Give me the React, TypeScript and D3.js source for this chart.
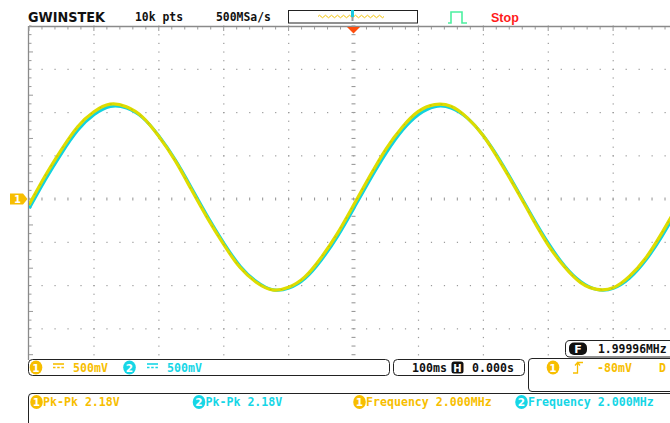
import React from "react";
import * as d3 from "d3";

const W = 670;
const H = 423;

// time axis in ns (100 ns/div, 10 div), values in mV (500 mV/div, 8 div)
const timeNs = [
  -500, -475, -450, -425, -400, -375, -350, -325, -300, -275, -250, -225, -200, -175, -150, -125, -100, -75, -50, -25,
  0, 25, 50, 75, 100, 125, 150, 175, 200, 225, 250, 275, 300, 325, 350, 375, 400, 425, 450, 475, 500,
];
const ch1mV = [
  -69, 268, 571, 836, 1008, 1096, 1066, 947, 724, 446, 112, -221, -526, -790, -962, -1050, -1021, -901, -679, -400,
  -72, 262, 578, 830, 1013, 1091, 1072, 941, 731, 440, 120, -215, -532, -784, -967, -1045, -1027, -895, -685, -394, -70,
];
const ch2mV = [
  -103, 230, 535, 801, 980, 1074, 1055, 942, 730, 457, 133, -200, -507, -771, -950, -1045, -1026, -913, -701, -428,
  -105, 228, 538, 799, 982, 1072, 1057, 940, 733, 455, 135, -198, -509, -769, -952, -1043, -1028, -911, -703, -426, -104,
];

const divTimes = [-500, -400, -300, -200, -100, 0, 100, 200, 300, 400, 500];
const divVolts = [2000, 1500, 1000, 500, 0, -500, -1000, -1500, -2000];

const topLabels = { brand: "GWINSTEK", pts: "10k pts", rate: "500MSa/s", state: "Stop" };
const chScale = ["500mV", "500mV"];
const timebase = "100ms";
const hPos = "0.000s";
const trigLevel = "-80mV";
const freqCounter = "1.99996MHz";
const measures = [
  { ch: 1, text: "Pk-Pk 2.18V" },
  { ch: 2, text: "Pk-Pk 2.18V" },
  { ch: 1, text: "Frequency 2.000MHz" },
  { ch: 2, text: "Frequency 2.000MHz" },
];

const YEL = "#f7be00";
const CYN = "#16d6e6";
const TRACE_Y = "#dedc00";
const TRACE_C = "#12d2de";
const MONO = "'DejaVu Sans Mono', monospace";

const x = d3.scaleLinear().domain([-500, 500]).range([29, 678]);
const y = d3.scaleLinear().domain([-2000, 2000]).range([372, 26]);

const Badge = ({ cx, cy, n, color }: { cx: number; cy: number; n: number; color: string }) => (
  <g>
    <ellipse cx={cx} cy={cy} rx={6.3} ry={7} fill={color} />
    <text x={cx} y={cy + 4} textAnchor="middle" fill="#fff" fontFamily="'DejaVu Sans', sans-serif" fontWeight="bold" fontSize={10.5}>
      {n}
    </text>
  </g>
);

const DcSym = ({ x0, yy, color }: { x0: number; yy: number; color: string }) => (
  <g stroke={color} strokeWidth={1.6}>
    <line x1={x0} x2={x0 + 11} y1={yy} y2={yy} />
    <line x1={x0} x2={x0 + 11} y1={yy + 3.5} y2={yy + 3.5} strokeDasharray="2.5 1.7" />
  </g>
);

export default function App() {
  const line = d3
    .line<number>()
    .x((_, i) => x(timeNs[i]))
    .y((d) => y(d))
    .curve(d3.curveNatural);

  const gx = divTimes.map((t) => x(t));
  const gy = divVolts.map((v) => y(v));
  const xMinor = d3.range(-500, 501, 20).map((t) => x(t)).filter((v) => v < W);
  const yMinor = d3.range(-2000, 2001, 100).map((v) => y(v)).filter((v) => v < 358);
  const cx0 = x(0);
  const cy0 = y(0);

  const dots: JSX.Element[] = [];
  gy.forEach((yy, k) => {
    if (k === 0 || k === 4 || yy > 358) return;
    xMinor.forEach((xx, j) => dots.push(<rect key={`h${k}-${j}`} x={xx - 0.5} y={yy - 0.5} width={1.2} height={1.2} fill="#9a9a9a" />));
  });
  gx.forEach((xx, k) => {
    if (k === 0 || k === 5 || xx > W) return;
    yMinor.forEach((yy, j) => dots.push(<rect key={`v${k}-${j}`} x={xx - 0.5} y={yy - 0.5} width={1.2} height={1.2} fill="#9a9a9a" />));
  });

  // memory bar wave icon
  let wave = "M318,16.5";
  for (let px = 318; px < 384; px += 6) wave += ` q1.5,-2.5 3,0 q1.5,2.5 3,0`;

  return (
    <svg width={W} height={H} style={{ position: "absolute", left: 0, top: 0, background: "#fff" }}>
      <rect width={W} height={H} fill="#fff" />

      {/* top bar */}
      <text x={28} y={22} fontFamily="'DejaVu Sans', sans-serif" fontWeight="bold" fontSize={14.5} textLength={77} lengthAdjust="spacingAndGlyphs" fill="#111">
        {topLabels.brand}
      </text>
      <text x={135} y={21} fontFamily={MONO} fontWeight="bold" fontSize={11.4} fill="#111">
        {topLabels.pts}
      </text>
      <text x={216} y={21} fontFamily={MONO} fontWeight="bold" fontSize={11.4} fill="#111">
        {topLabels.rate}
      </text>
      <rect x={288.5} y={10.5} width={129} height={12.5} fill="#fff" stroke="#222" strokeWidth={1} />
      <path d={wave} fill="none" stroke="#f2c200" strokeWidth={1} />
      <rect x={351} y={10} width={3} height={7} fill="#18c8e0" />
      <rect x={351.5} y={17} width={2} height={4} fill="#999" />
      <path d="M448,23 H451 V12 H462 V23 H467" fill="none" stroke="#4cf0a0" strokeWidth={1.6} />
      <text x={491} y={22} fontFamily="'Liberation Sans', sans-serif" fontWeight="bold" fontSize={12.5} fill="#ff1a1a">
        {topLabels.state}
      </text>

      {/* graticule */}
      <g>{dots}</g>
      <line x1={29} x2={W} y1={26.5} y2={26.5} stroke="#8a8a8a" strokeWidth={1.3} />
      <line x1={28.5} x2={28.5} y1={26} y2={360} stroke="#8a8a8a" strokeWidth={1.3} />
      {xMinor.map((xx, i) => (
        <line key={`tt${i}`} x1={xx} x2={xx} y1={27} y2={i % 5 === 0 ? 31 : 29.5} stroke="#999" />
      ))}
      {yMinor.map((yy, i) => (
        <line key={`lt${i}`} x1={29} x2={i % 5 === 0 ? 33 : 31.5} y1={yy} y2={yy} stroke="#999" />
      ))}
      {xMinor.map((xx, i) => (
        <line key={`ch${i}`} x1={xx} x2={xx} y1={cy0 - 1.5} y2={cy0 + 1.5} stroke="#9a9a9a" strokeWidth={1.1} />
      ))}
      {yMinor.map((yy, i) => (
        <line key={`cv${i}`} x1={cx0 - 2} x2={cx0 + 2} y1={yy} y2={yy} stroke="#9a9a9a" strokeWidth={1.1} />
      ))}

      {/* traces */}
      <defs>
        <clipPath id="scr">
          <rect x={29} y={27} width={W - 29} height={331} />
        </clipPath>
      </defs>
      <g clipPath="url(#scr)" fill="none" strokeLinejoin="round">
        <path d={line(ch2mV) ?? ""} stroke={TRACE_C} strokeWidth={3} transform="translate(0.3,0.4)" />
        <path d={line(ch1mV) ?? ""} stroke={TRACE_Y} strokeWidth={3.2} />
        <path d={line(ch1mV) ?? ""} stroke="#9aa000" strokeWidth={0.6} strokeDasharray="2 9" opacity={0.7} />
      </g>

      {/* trigger position marker and channel marker */}
      <path d={`M${cx0 - 6.5},27 H${cx0 + 6.5} L${cx0},33.5 Z`} fill="#ff4d0d" />
      <path d={`M10,${cy0 - 5.5} H23 L27.5,${cy0} L23,${cy0 + 5.5} H10 Z`} fill={YEL} />
      <text x={17.5} y={cy0 + 4} textAnchor="middle" fill="#fff" fontFamily="'DejaVu Sans', sans-serif" fontWeight="bold" fontSize={10}>
        1
      </text>

      {/* frequency counter box */}
      <path d="M670,340.5 H570 Q565.5,340.5 565.5,345 V352.5 Q565.5,357 570,357 H670" fill="#fff" stroke="#222" />
      <rect x={569} y={342.5} width={18} height={12.5} rx={5} fill="#111" />
      <text x={578} y={353} textAnchor="middle" fill="#fff" fontFamily="'DejaVu Sans', sans-serif" fontWeight="bold" fontSize={11}>
        F
      </text>
      <text x={598} y={352.5} fontFamily={MONO} fontWeight="bold" fontSize={11.4} fill="#111">
        {freqCounter}
      </text>

      {/* channel scale box */}
      <rect x={28.5} y={359.5} width={361} height={16} rx={4} fill="#fff" stroke="#222" />
      <Badge cx={36} cy={367.5} n={1} color={YEL} />
      <DcSym x0={53} yy={364} color={YEL} />
      <text x={73} y={371.5} fontFamily={MONO} fontWeight="bold" fontSize={11.6} fill={YEL}>
        {chScale[0]}
      </text>
      <Badge cx={129.5} cy={367.5} n={2} color={CYN} />
      <DcSym x0={147} yy={364} color={CYN} />
      <text x={167} y={371.5} fontFamily={MONO} fontWeight="bold" fontSize={11.6} fill={CYN}>
        {chScale[1]}
      </text>

      {/* timebase box */}
      <rect x={393.5} y={359.5} width={131} height={16} rx={4} fill="#fff" stroke="#222" />
      <text x={412} y={371.5} fontFamily={MONO} fontWeight="bold" fontSize={11.6} fill="#111">
        {timebase}
      </text>
      <rect x={451.5} y={361.5} width={12} height={12} rx={2.5} fill="#111" />
      <text x={457.5} y={371.5} textAnchor="middle" fill="#fff" fontFamily="'DejaVu Sans', sans-serif" fontWeight="bold" fontSize={10}>
        H
      </text>
      <text x={472} y={371.5} fontFamily={MONO} fontWeight="bold" fontSize={11.6} fill="#111">
        {hPos}
      </text>

      {/* trigger box */}
      <path d="M680,358.5 H532 Q528.5,358.5 528.5,362 V388 Q528.5,391.5 532,391.5 H680" fill="#fff" stroke="#222" />
      <Badge cx={553} cy={367.5} n={1} color={YEL} />
      <path d="M573,373 H577.5 V362.5 H583 M575,365.5 L577.5,362.5 L580,365.5" fill="none" stroke={YEL} strokeWidth={1.3} />
      <text x={597} y={371.5} fontFamily={MONO} fontWeight="bold" fontSize={11.6} fill={YEL}>
        {trigLevel}
      </text>
      <text x={659} y={371.5} fontFamily={MONO} fontWeight="bold" fontSize={11.6} fill={YEL}>
        D
      </text>

      {/* measurement strip */}
      <path d="M28.5,430 V397 Q28.5,393.5 32,393.5 H680" fill="none" stroke="#222" />
      {measures.map((m, i) => {
        const bx = [36.5, 199, 359.5, 521.5][i];
        const col = m.ch === 1 ? YEL : CYN;
        return (
          <g key={`m${i}`}>
            <Badge cx={bx} cy={402} n={m.ch} color={col} />
            <text x={bx + 6.5} y={406} fontFamily={MONO} fontWeight="bold" fontSize={11.6} fill={col}>
              {m.text}
            </text>
          </g>
        );
      })}
    </svg>
  );
}
